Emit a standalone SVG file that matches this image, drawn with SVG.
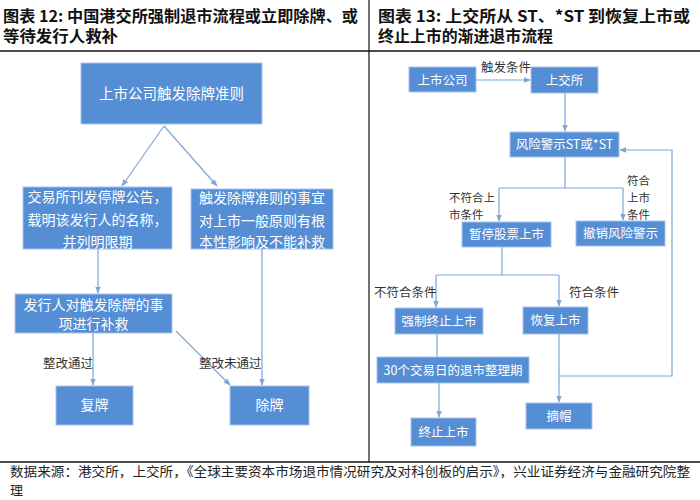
<svg xmlns="http://www.w3.org/2000/svg" width="700" height="500" viewBox="0 0 700 500">
<defs>
<style>
.t{font-family:"Noto Sans CJK SC","Liberation Sans",sans-serif;}
.title{font-family:"Noto Sans CJK SC",sans-serif;font-weight:bold;font-size:15.5px;fill:#111;}
.box{fill:#558ED5;stroke:#A9C4EB;stroke-width:1;}
.bt{font-family:"Noto Sans CJK SC",sans-serif;fill:#fff;text-anchor:middle;}
.lb{font-family:"Noto Sans CJK SC",sans-serif;fill:#333;font-size:12.5px;}
.lbs{font-family:"Noto Sans CJK SC",sans-serif;fill:#333;font-size:11.5px;}
.c{fill:none;stroke:#7EA6D8;stroke-width:1.2;}
.foot{font-family:"Noto Sans CJK SC",sans-serif;fill:#222;font-size:13px;}
</style>
<marker id="ah" viewBox="0 0 10 10" refX="9" refY="5" markerWidth="6" markerHeight="6" orient="auto">
<path d="M0,1 L10,5 L0,9 Z" fill="#7EA6D8"/>
</marker>
</defs>
<rect width="700" height="500" fill="#fff"/>
<!-- frame -->
<line x1="0" y1="51" x2="700" y2="51" stroke="#111" stroke-width="1.6"/>
<line x1="369" y1="0" x2="369" y2="462" stroke="#111" stroke-width="1.2"/>
<line x1="0" y1="462" x2="700" y2="462" stroke="#111" stroke-width="1.6"/>
<!-- titles -->
<text class="title" x="3" y="22" textLength="355" lengthAdjust="spacingAndGlyphs">图表 12: 中国港交所强制退市流程或立即除牌、或</text>
<text class="title" x="3" y="42" textLength="115" lengthAdjust="spacingAndGlyphs">等待发行人救补</text>
<text class="title" x="378" y="22" textLength="312" lengthAdjust="spacingAndGlyphs">图表 13: 上交所从 ST、*ST 到恢复上市或</text>
<text class="title" x="378" y="42" textLength="175" lengthAdjust="spacingAndGlyphs">终止上市的渐进退市流程</text>

<!-- connectors -->
<g id="connectors">
<line class="c" x1="164" y1="126" x2="122" y2="186" marker-end="url(#ah)"/>
<line class="c" x1="164" y1="126" x2="217" y2="186" marker-end="url(#ah)"/>
<line class="c" x1="98" y1="249" x2="98" y2="293" marker-end="url(#ah)"/>
<line class="c" x1="262" y1="249" x2="262" y2="385" marker-end="url(#ah)"/>
<line class="c" x1="93" y1="333" x2="93" y2="385" marker-end="url(#ah)"/>
<line class="c" x1="176" y1="331" x2="230" y2="385" marker-end="url(#ah)"/>

<line class="c" x1="476" y1="80" x2="530" y2="80" marker-end="url(#ah)"/>
<line class="c" x1="565" y1="93" x2="565" y2="131" marker-end="url(#ah)"/>
<polyline class="c" points="565,157 565,188"/>
<line class="c" x1="499" y1="188" x2="623" y2="188"/>
<line class="c" x1="499" y1="188" x2="499" y2="221" marker-end="url(#ah)"/>
<line class="c" x1="623" y1="188" x2="623" y2="220" marker-end="url(#ah)"/>
<line class="c" x1="502" y1="247" x2="502" y2="275"/>
<line class="c" x1="436" y1="275" x2="559" y2="275"/>
<line class="c" x1="436" y1="275" x2="436" y2="307" marker-end="url(#ah)"/>
<line class="c" x1="559" y1="275" x2="559" y2="306" marker-end="url(#ah)"/>
<line class="c" x1="437" y1="334" x2="437" y2="357"/>
<line class="c" x1="439" y1="383" x2="439" y2="417" marker-end="url(#ah)"/>
<line class="c" x1="559" y1="334" x2="559" y2="402" marker-end="url(#ah)"/>
<polyline class="c" points="559,376 672,376 672,150 620,150" marker-end="url(#ah)"/>
</g>

<!-- connector labels -->
<g id="labels">
<text class="lb" x="43" y="368">整改通过</text>
<text class="lb" x="199" y="368">整改未通过</text>
<text class="lb" x="481" y="72">触发条件</text>
<text class="lbs" x="449" y="202">不符合上</text>
<text class="lbs" x="449" y="219">市条件</text>
<text class="lbs" x="627" y="185">符合</text>
<text class="lbs" x="627" y="202">上市</text>
<text class="lbs" x="627" y="219">条件</text>
<text class="lb" x="374" y="297">不符合条件</text>
<text class="lb" x="569" y="297">符合条件</text>
</g>

<!-- left panel nodes -->
<g id="n_top">
<rect class="box" x="81" y="63" width="181" height="61"/>
<text class="bt" x="171.5" y="99" font-size="14.5">上市公司触发除牌准则</text>
</g>
<g id="n_announce">
<rect class="box" x="23" y="187" width="149" height="62"/>
<text class="bt" x="97.5" y="202" font-size="14">交易所刊发停牌公告，</text>
<text class="bt" x="97.5" y="225" font-size="14">载明该发行人的名称，</text>
<text class="bt" x="97.5" y="247" font-size="14">并列明限期</text>
</g>
<g id="n_matter">
<rect class="box" x="191" y="189" width="142" height="60"/>
<text class="bt" x="262" y="203" font-size="14">触发除牌准则的事宜</text>
<text class="bt" x="262" y="226" font-size="14">对上市一般原则有根</text>
<text class="bt" x="262" y="247" font-size="14">本性影响及不能补救</text>
</g>
<g id="n_remedy">
<rect class="box" x="15" y="294" width="157" height="39"/>
<text class="bt" x="93.5" y="310" font-size="14">发行人对触发除牌的事</text>
<text class="bt" x="93.5" y="329" font-size="14">项进行补救</text>
</g>
<g id="n_resume">
<rect class="box" x="56" y="386" width="77" height="39"/>
<text class="bt" x="94.5" y="410" font-size="14">复牌</text>
</g>
<g id="n_delist">
<rect class="box" x="230" y="386" width="79" height="39"/>
<text class="bt" x="269.5" y="410" font-size="14">除牌</text>
</g>

<!-- right panel nodes -->
<g id="n_company">
<rect class="box" x="409" y="67" width="67" height="25"/>
<text class="bt" x="442.5" y="84.5" font-size="12.5">上市公司</text>
</g>
<g id="n_sse">
<rect class="box" x="531" y="67" width="67" height="26"/>
<text class="bt" x="564.5" y="85" font-size="12.5">上交所</text>
</g>
<g id="n_st">
<rect class="box" x="510" y="132" width="109" height="25"/>
<text class="bt" x="564.5" y="149" font-size="12.5">风险警示ST或*ST</text>
</g>
<g id="n_suspend">
<rect class="box" x="462" y="222" width="89" height="25"/>
<text class="bt" x="506.5" y="239" font-size="12.5">暂停股票上市</text>
</g>
<g id="n_revoke">
<rect class="box" x="576" y="221" width="89" height="25"/>
<text class="bt" x="620.5" y="238" font-size="12.5">撤销风险警示</text>
</g>
<g id="n_force">
<rect class="box" x="395" y="308" width="88" height="26"/>
<text class="bt" x="439" y="325.5" font-size="12.5">强制终止上市</text>
</g>
<g id="n_restore">
<rect class="box" x="523" y="307" width="65" height="27"/>
<text class="bt" x="555.5" y="325" font-size="12.5">恢复上市</text>
</g>
<g id="n_period">
<rect class="box" x="377" y="357" width="152" height="26"/>
<text class="bt" x="453" y="374.5" font-size="12.5">30个交易日的退市整理期</text>
</g>
<g id="n_terminate">
<rect class="box" x="411" y="418" width="65" height="28"/>
<text class="bt" x="443.5" y="436.5" font-size="12.5">终止上市</text>
</g>
<g id="n_remove">
<rect class="box" x="526" y="403" width="66" height="26"/>
<text class="bt" x="559" y="420.5" font-size="12.5">摘帽</text>
</g>

<!-- footer -->
<text class="foot" x="10" y="476" textLength="680" lengthAdjust="spacingAndGlyphs">数据来源：港交所，上交所，《全球主要资本市场退市情况研究及对科创板的启示》，兴业证券经济与金融研究院整</text>
<text class="foot" x="10" y="495">理</text>
</svg>
